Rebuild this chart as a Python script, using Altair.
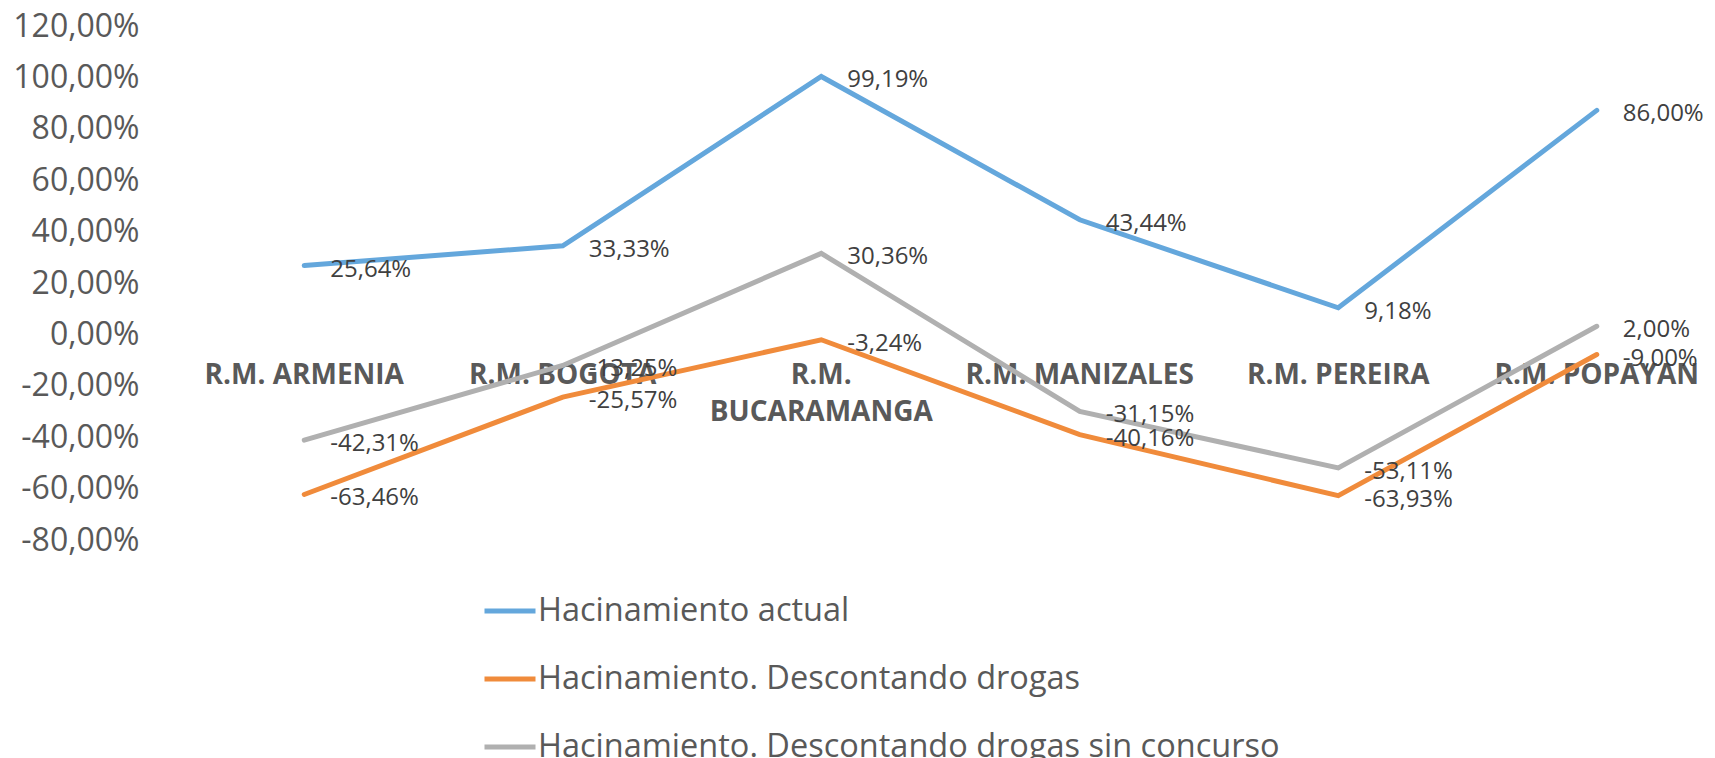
import altair as alt
import pandas as pd

categories = ["R.M. ARMENIA", "R.M. BOGOTA", "R.M. BUCARAMANGA",
              "R.M. MANIZALES", "R.M. PEREIRA", "R.M. POPAYAN"]
category_labels = ["R.M. ARMENIA", "R.M. BOGOTA", "R.M.\nBUCARAMANGA",
                   "R.M. MANIZALES", "R.M. PEREIRA", "R.M. POPAYAN"]
series_names = ["Hacinamiento actual",
                "Hacinamiento. Descontando drogas",
                "Hacinamiento. Descontando drogas sin concurso"]
hacinamiento_actual = [25.64, 33.33, 99.19, 43.44, 9.18, 86.00]
descontando_drogas = [-63.46, -25.57, -3.24, -40.16, -63.93, -9.00]
sin_concurso = [-42.31, -13.25, 30.36, -31.15, -53.11, 2.00]
y_ticks = [-80, -60, -40, -20, 0, 20, 40, 60, 80, 100, 120]
colors = ["#64A7DC", "#F08B3B", "#B0B0B0"]

rows = []
for name, vals in zip(series_names, [hacinamiento_actual, descontando_drogas, sin_concurso]):
    for c, v in zip(categories, vals):
        rows.append({"cat": c, "series": name, "value": v,
                     "label": f"{v:.2f}%".replace(".", ",")})
df = pd.DataFrame(rows)
cat_df = pd.DataFrame({"cat": categories, "label": category_labels})

FONT = "Open Sans"

x_enc = alt.X("cat:N", sort=categories, axis=None,
              scale=alt.Scale(range=[0, 1551], paddingInner=0, paddingOuter=0))
y_scale = alt.Scale(domain=[-80, 120], nice=False, zero=False)

cat_text = alt.Chart(cat_df).mark_text(
    font=FONT, fontSize=28, fontWeight="bold", color="#595959",
    baseline="top", dy=31, lineBreak="\n", lineHeight=37, align="center"
).encode(
    x=x_enc,
    y=alt.datum(0, type="quantitative", scale=y_scale),
    text="label:N",
)

lines = alt.Chart(df).mark_line(strokeWidth=5, strokeCap="round", strokeJoin="miter").encode(
    x=x_enc,
    y=alt.Y("value:Q", scale=y_scale,
            axis=alt.Axis(values=y_ticks, title=None, domain=False, ticks=False,
                          labelFont=FONT, labelFontSize=32, labelColor="#595959",
                          labelPadding=36, labelOffset=3,
                          labelExpr="replace(replace(format(datum.value, '.2f'), '.', ','), '\u2212', '-') + '%'",
                          gridColor="#D6D6D6", gridWidth=1.8)),
    color=alt.Color("series:N", sort=series_names,
                    scale=alt.Scale(domain=series_names, range=colors),
                    legend=alt.Legend(orient="none", legendX=307, legendY=560,
                                      direction="vertical", title=None,
                                      symbolType="stroke", symbolSize=2601,
                                      symbolStrokeWidth=5, labelFont=FONT,
                                      labelFontSize=32.5, labelColor="#595959",
                                      rowPadding=23, labelOffset=0, padding=0,
                                      labelLimit=0)),
    detail="series:N",
)

labels = alt.Chart(df).mark_text(
    font=FONT, fontSize=24, color="#404040", align="left", baseline="middle",
    dx=26, dy=4
).encode(
    x=x_enc,
    y=alt.Y("value:Q", scale=y_scale),
    text="label:N",
)

chart = alt.layer(cat_text, lines, labels).properties(
    width=1532, height=514,
    padding={"left": 167, "top": 15, "right": 0, "bottom": 221},
    autosize=alt.AutoSizeParams(type="none"),
).configure_view(stroke=None)

chart.save("out.html", embed_options={"renderer": "svg", "actions": False})
